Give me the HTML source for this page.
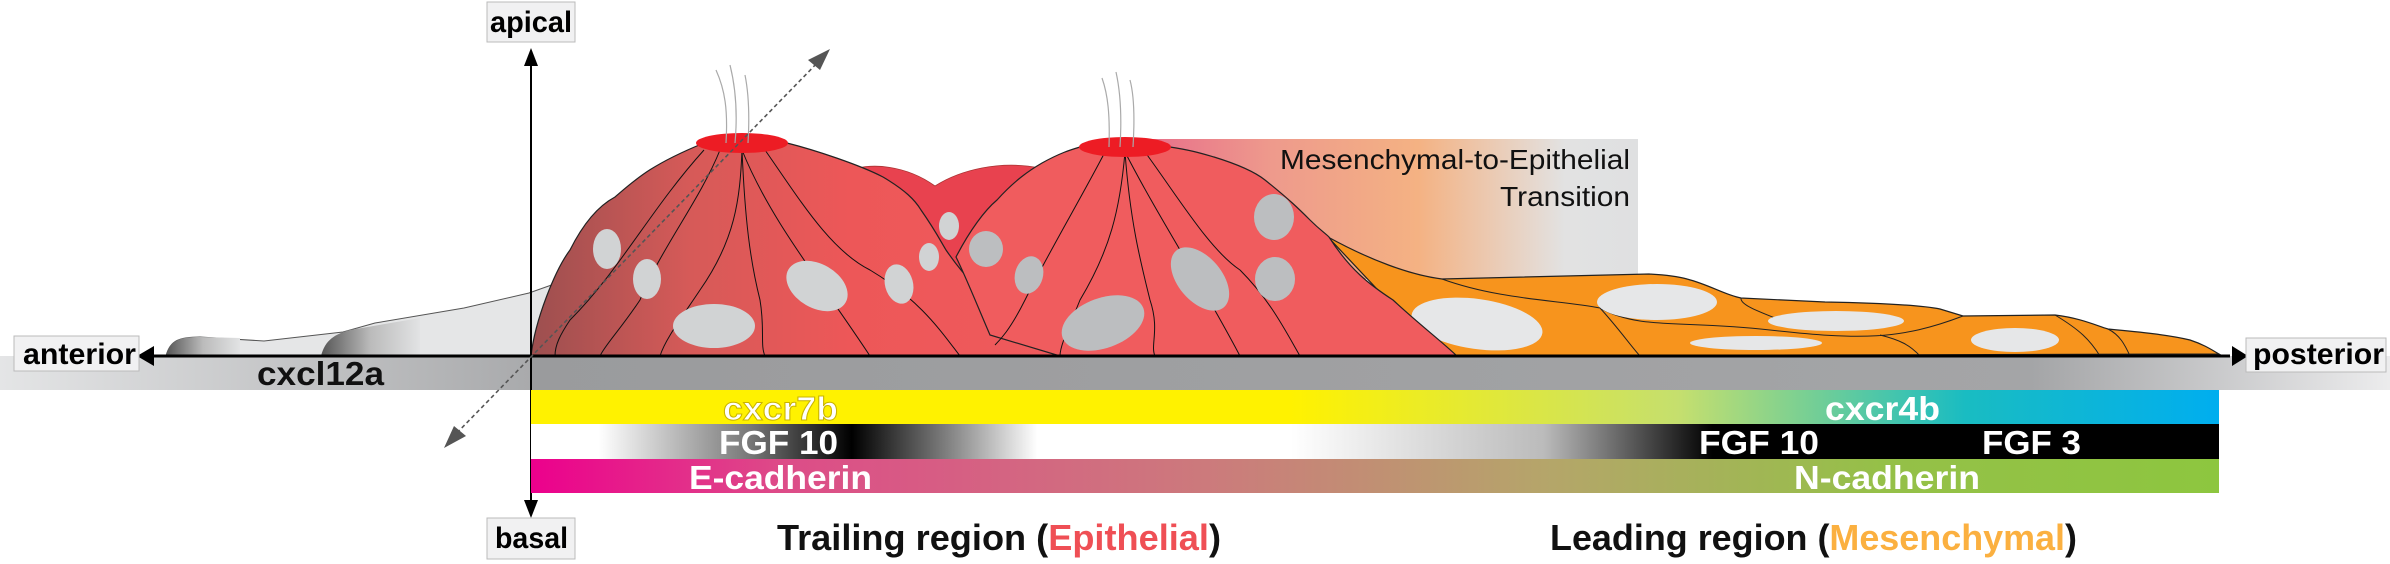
<!DOCTYPE html>
<html><head><meta charset="utf-8"><style>
html,body{margin:0;padding:0;background:#fff;}
svg{display:block;}
text{font-family:"Liberation Sans",sans-serif;font-weight:bold;}
</style></head><body>
<svg width="2390" height="564" viewBox="0 0 2390 564" xmlns="http://www.w3.org/2000/svg">
<defs>
<linearGradient id="grayBand" x1="0" x2="1"><stop offset="0" stop-color="#e4e5e6"/><stop offset="0.222" stop-color="#a9aaac"/><stop offset="0.222" stop-color="#9a9b9d"/><stop offset="0.85" stop-color="#a4a5a7"/><stop offset="1" stop-color="#ececed"/></linearGradient>
<linearGradient id="yellowBand" x1="0" x2="1"><stop offset="0" stop-color="#fff200"/><stop offset="0.45" stop-color="#fff200"/><stop offset="0.68" stop-color="#c5df6e"/><stop offset="0.85" stop-color="#19bcc2"/><stop offset="1" stop-color="#00aeef"/></linearGradient>
<linearGradient id="fgfBand" x1="0" x2="1"><stop offset="0" stop-color="#fff"/><stop offset="0.04" stop-color="#fff"/><stop offset="0.13" stop-color="#777"/><stop offset="0.19" stop-color="#000"/><stop offset="0.25" stop-color="#888"/><stop offset="0.3" stop-color="#fff"/><stop offset="0.45" stop-color="#fff"/><stop offset="0.6" stop-color="#bbb"/><stop offset="0.7" stop-color="#000"/><stop offset="1" stop-color="#000"/></linearGradient>
<linearGradient id="cadBand" x1="0" x2="1"><stop offset="0" stop-color="#ec008c"/><stop offset="0.15" stop-color="#dd4c88"/><stop offset="0.4" stop-color="#cc7a7c"/><stop offset="0.6" stop-color="#b5a56a"/><stop offset="0.8" stop-color="#95c048"/><stop offset="1" stop-color="#8dc63f"/></linearGradient>
<linearGradient id="metBox" x1="0" x2="1"><stop offset="0" stop-color="#e8708a"/><stop offset="0.25" stop-color="#ee9a8c"/><stop offset="0.55" stop-color="#f4b283"/><stop offset="0.85" stop-color="#e2e2e2"/><stop offset="1" stop-color="#dfe0e1"/></linearGradient>
<linearGradient id="hump1" x1="0" x2="1"><stop offset="0" stop-color="#9c4f4f"/><stop offset="0.3" stop-color="#d65a58"/><stop offset="0.6" stop-color="#ed5758"/><stop offset="1" stop-color="#ef5a5c"/></linearGradient>
<linearGradient id="darkHump" x1="0" x2="1"><stop offset="0" stop-color="#555"/><stop offset="0.5" stop-color="#bbb"/><stop offset="1" stop-color="#e2e3e4"/></linearGradient>
</defs>

<rect x="0" y="356" width="2390" height="34" fill="url(#grayBand)"/>
<text x="257" y="385" font-size="33" textLength="127" lengthAdjust="spacingAndGlyphs" fill="#111">cxcl12a</text>

<rect x="1150" y="139" width="488" height="140" fill="url(#metBox)"/>
<text x="1280" y="169" font-size="28" style="font-weight:normal" textLength="350" lengthAdjust="spacingAndGlyphs" fill="#111">Mesenchymal-to-Epithelial</text>
<text x="1500" y="206" font-size="28" style="font-weight:normal" textLength="130" lengthAdjust="spacingAndGlyphs" fill="#111">Transition</text>

<path d="M166,356 C170,340 180,337 200,337 L264,341 L343,332 L375,323 L464,308 L529,293 L560,282 L560,356 Z" fill="#e5e6e7" stroke="#555" stroke-width="1"/>
<path d="M166,356 C170,340 180,337 200,337 L240,338 L240,356 Z" fill="url(#darkHump)"/>
<path d="M321,356 C325,340 335,334 350,330 L420,318 L420,356 Z" fill="url(#darkHump)"/>

<path d="M840,175 C870,158 910,168 935,186 C960,170 1000,160 1040,168 L1040,340 L900,340 Z" fill="#e8424f" stroke="#a33" stroke-width="0.8"/>

<path d="M1328,237 C1370,260 1410,275 1442,279 L1649,274 C1670,275 1680,277 1687,279 C1710,285 1725,295 1741,298 L1825,302 C1880,303 1920,305 1940,309 L1963,316 L2055,315 C2080,318 2095,325 2108,329 C2140,332 2170,335 2190,340 C2205,345 2212,350 2219,354 L1440,356 Z" fill="#f7941d" stroke="#222" stroke-width="1.2"/>
<path d="M1442,279 C1500,300 1560,300 1600,308 C1640,330 1680,320 1770,330 C1860,340 1900,340 1963,316 M1600,308 C1620,330 1630,345 1640,356 M1741,298 C1740,305 1760,312 1780,320 M1880,335 C1900,340 1910,345 1920,356 M2055,315 C2080,330 2090,340 2100,356 M2108,329 C2120,335 2125,345 2130,356" fill="none" stroke="#222" stroke-width="1"/>
<ellipse cx="1477" cy="324" rx="66" ry="25" fill="#e6e7e8" transform="rotate(8 1477 324)"/>
<ellipse cx="1657" cy="302" rx="60" ry="18" fill="#e6e7e8"/>
<ellipse cx="1836" cy="321" rx="68" ry="10" fill="#e6e7e8"/>
<ellipse cx="1756" cy="343" rx="66" ry="7" fill="#e6e7e8"/>
<ellipse cx="2015" cy="340" rx="44" ry="12" fill="#e6e7e8"/>

<path d="M531,356 C535,320 555,270 570,250 C585,220 600,205 615,197 C635,180 650,165 704,143 L787,143 C815,150 860,165 883,177 C905,190 915,200 921,210 C935,230 940,240 946,250 C970,285 990,300 1010,317 C1030,335 1050,345 1061,356 Z" fill="url(#hump1)" stroke="#222" stroke-width="1.2"/>
<path d="M742,150 C740,200 735,240 700,290 C680,320 665,340 660,356 M742,150 C745,220 750,260 760,300 C765,330 760,345 765,356 M742,150 C770,220 820,280 870,356 M720,150 C700,200 660,250 640,300 C620,330 605,345 600,356 M765,150 C800,200 830,250 870,270 C920,300 940,330 960,356 M704,150 C650,210 620,270 570,320 C560,335 555,345 555,356" fill="none" stroke="#111" stroke-width="1"/>
<ellipse cx="742" cy="143" rx="46" ry="10" fill="#ed1c24"/>

<path d="M990,335 C975,300 965,275 956,257 C970,230 985,210 997,200 C1015,180 1030,170 1042,163 C1060,153 1070,150 1080,147 L1170,147 C1190,150 1200,153 1214,157 C1240,165 1255,172 1265,180 C1290,200 1300,210 1310,220 C1320,230 1325,233 1329,237 C1350,270 1370,285 1393,300 C1420,325 1440,340 1457,356 L1060,356 Z" fill="#f05c5e" stroke="#222" stroke-width="1.2"/>
<path d="M1125,152 C1120,210 1110,250 1080,300 C1070,325 1060,345 1060,356 M1125,152 C1130,220 1140,260 1150,300 C1160,330 1150,345 1155,356 M1125,152 C1160,220 1200,280 1240,356 M1105,152 C1080,200 1050,250 1025,300 C1010,330 1000,340 995,345 M1145,152 C1180,200 1210,250 1240,270 C1270,300 1285,330 1300,356" fill="none" stroke="#111" stroke-width="1"/>
<ellipse cx="1125" cy="147" rx="46" ry="10" fill="#ed1c24"/>

<g fill="#d1d3d4">
<ellipse cx="607" cy="249" rx="14" ry="20"/>
<ellipse cx="647" cy="279" rx="14" ry="20"/>
<ellipse cx="714" cy="326" rx="41" ry="22"/>
<ellipse cx="817" cy="286" rx="33" ry="22" transform="rotate(30 817 286)"/>
<ellipse cx="899" cy="284" rx="14" ry="20" transform="rotate(-15 899 284)"/>
<ellipse cx="929" cy="257" rx="10" ry="14"/>
<ellipse cx="949" cy="226" rx="10" ry="14"/>
</g>
<g fill="#bcbec0">
<ellipse cx="986" cy="249" rx="17" ry="18"/>
<ellipse cx="1029" cy="275" rx="14" ry="19" transform="rotate(15 1029 275)"/>
<ellipse cx="1103" cy="323" rx="43" ry="25" transform="rotate(-20 1103 323)"/>
<ellipse cx="1200" cy="279" rx="37" ry="22" transform="rotate(50 1200 279)"/>
<ellipse cx="1274" cy="217" rx="20" ry="23"/>
<ellipse cx="1275" cy="279" rx="20" ry="22"/>
</g>

<path d="M726,143 C728,110 725,90 716,70 M735,143 C738,110 735,85 730,65 M748,143 C750,110 748,90 745,75 M1109,147 C1110,115 1108,95 1102,78 M1120,147 C1122,115 1120,90 1116,72 M1133,147 C1135,115 1134,95 1130,80" fill="none" stroke="#aaa" stroke-width="1.2"/>

<line x1="150" y1="356" x2="2230" y2="356" stroke="#000" stroke-width="3"/>
<polygon points="137,356 154,346 154,366" fill="#000"/>
<polygon points="2248,356 2232,346 2232,366" fill="#000"/>
<line x1="531" y1="62" x2="531" y2="505" stroke="#000" stroke-width="2"/>
<polygon points="531,48 524,66 538,66" fill="#000"/>
<polygon points="531,518 524,500 538,500" fill="#000"/>
<line x1="452" y1="438" x2="822" y2="58" stroke="#555" stroke-width="1.6" stroke-dasharray="4,3"/>
<polygon points="830,49 808,60 820,70" fill="#555"/>
<polygon points="444,448 466,436 454,426" fill="#555"/>

<rect x="531" y="390" width="1688" height="34" fill="url(#yellowBand)"/>
<rect x="531" y="424" width="1688" height="35" fill="url(#fgfBand)"/>
<rect x="531" y="459" width="1688" height="34" fill="url(#cadBand)"/>
<g font-size="33" fill="#fff" lengthAdjust="spacingAndGlyphs">
<text x="723" y="420" textLength="115" lengthAdjust="spacingAndGlyphs" stroke="#c9b400" stroke-width="1">cxcr7b</text>
<text x="1825" y="420" textLength="115" lengthAdjust="spacingAndGlyphs">cxcr4b</text>
<text x="719" y="454" textLength="119" lengthAdjust="spacingAndGlyphs">FGF 10</text>
<text x="1699" y="454" textLength="120" lengthAdjust="spacingAndGlyphs">FGF 10</text>
<text x="1982" y="454" textLength="99" lengthAdjust="spacingAndGlyphs">FGF 3</text>
<text x="689" y="489" textLength="183" lengthAdjust="spacingAndGlyphs">E-cadherin</text>
<text x="1794" y="489" textLength="186" lengthAdjust="spacingAndGlyphs">N-cadherin</text>
</g>

<rect x="487" y="2" width="88" height="40" fill="#f1f1f2" stroke="#bbb"/>
<text x="490" y="32" font-size="30" textLength="82" lengthAdjust="spacingAndGlyphs">apical</text>
<rect x="487" y="518" width="88" height="41" fill="#f1f1f2" stroke="#bbb"/>
<text x="495" y="548" font-size="30" textLength="73" lengthAdjust="spacingAndGlyphs">basal</text>
<rect x="14" y="336" width="125" height="35" fill="#f1f1f2" stroke="#bbb"/>
<text x="23" y="364" font-size="30" textLength="113" lengthAdjust="spacingAndGlyphs">anterior</text>
<rect x="2246" y="338" width="140" height="34" fill="#f1f1f2" stroke="#bbb"/>
<text x="2253" y="364" font-size="30" textLength="131" lengthAdjust="spacingAndGlyphs">posterior</text>

<text x="777" y="550" font-size="36" textLength="444" lengthAdjust="spacingAndGlyphs" fill="#111">Trailing region (<tspan fill="#ef4f55">Epithelial</tspan>)</text>
<text x="1550" y="550" font-size="36" textLength="527" lengthAdjust="spacingAndGlyphs" fill="#111">Leading region (<tspan fill="#fbb040">Mesenchymal</tspan>)</text>
</svg>
</body></html>
